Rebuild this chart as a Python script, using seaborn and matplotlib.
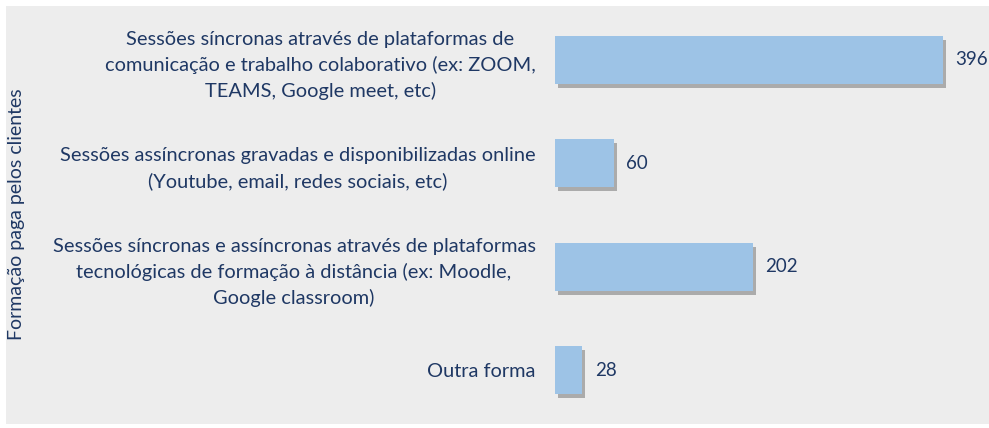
import matplotlib
matplotlib.use("Agg")
import matplotlib.pyplot as plt
import matplotlib.patheffects as pe
from matplotlib.patches import Rectangle
import seaborn as sns
import pandas as pd

categories = [
    "Sessões síncronas através de plataformas de\ncomunicação e trabalho colaborativo (ex: ZOOM,\nTEAMS, Google meet, etc)",
    "Sessões assíncronas gravadas e disponibilizadas online\n(Youtube, email, redes sociais, etc)",
    "Sessões síncronas e assíncronas através de plataformas\ntecnológicas de formação à distância (ex: Moodle,\nGoogle classroom)",
    "Outra forma",
]
values = [396, 60, 202, 28]
y_label = "Formação paga pelos clientes"

sns.set_theme(style="white")
plt.rcParams["font.family"] = ["Lato", "DejaVu Sans"]

navy = "#1F3864"
bar_color = "#9DC3E6"
bg = "#EDEDED"

W, H = 989, 428
fig = plt.figure(figsize=(W / 100, H / 100), dpi=100, facecolor="white")
fig.patches.append(Rectangle((6 / W, 4 / H), 1 - 6 / W, 1 - 10 / H,
                             transform=fig.transFigure, facecolor=bg,
                             edgecolor="none", zorder=-10))

ax = fig.add_axes([555 / W, 6 / H, 430 / W, 414 / H])
ax.set_facecolor("none")
ax.set_zorder(5)

df = pd.DataFrame({"cat": categories, "val": values})
sns.barplot(data=df, x="val", y="cat", orient="h", color=bar_color,
            width=0.465, saturation=1, linewidth=0, ax=ax)

for p in ax.patches:
    p.set_path_effects([pe.SimplePatchShadow(offset=(2, -3), shadow_rgbFace="#4a4a4a", alpha=0.4),
                        pe.Normal()])

for c in ax.containers:
    ax.bar_label(c, labels=[str(v) for v in values], padding=9,
                 color=navy, fontsize=13.5)

ax.set_xlim(0, 439)
ax.set_xlabel("")
ax.set_ylabel("")
ax.set_xticks([])
ax.tick_params(axis="y", length=0, pad=14, labelsize=14.4, labelcolor=navy)
for t in ax.get_yticklabels():
    t.set_multialignment("center")
    t.set_linespacing(1.55)
for s in ax.spines.values():
    s.set_visible(False)

fig.text(17 / W, 0.5, y_label, rotation=90, va="center", ha="center",
         color=navy, fontsize=14)

fig.savefig("out.png", dpi=100, facecolor="white")
